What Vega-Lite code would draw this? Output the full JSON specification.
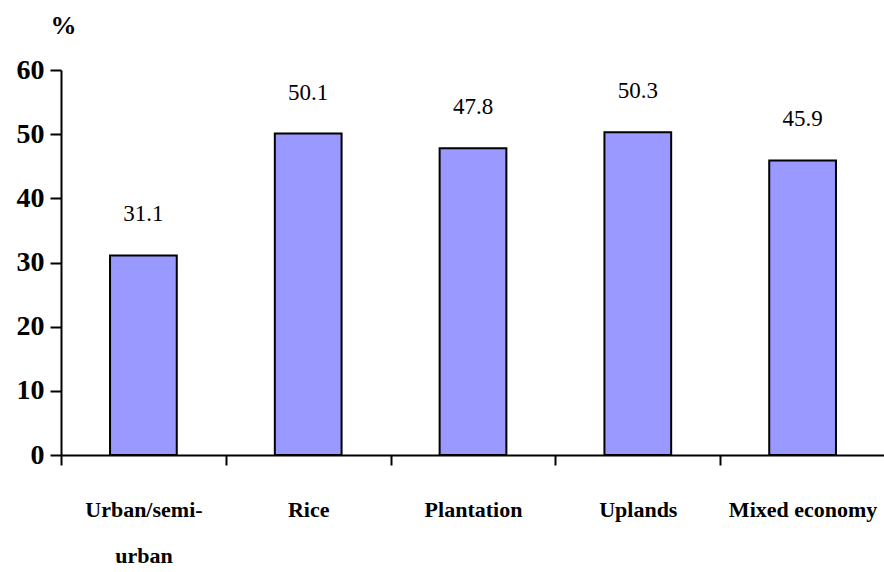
{
  "$schema": "https://vega.github.io/schema/vega-lite/v6.json",
  "autosize": "none",
  "padding": {"left": 61, "top": 70, "right": 0, "bottom": 117},
  "width": 824,
  "height": 385,
  "background": "white",
  "config": {
    "view": {"stroke": null},
    "font": "Times New Roman, Liberation Serif, serif"
  },
  "data": {
    "values": [
      {"zone": "Urban/semi-urban", "pct": 31.1},
      {"zone": "Rice", "pct": 50.1},
      {"zone": "Plantation", "pct": 47.8},
      {"zone": "Uplands", "pct": 50.3},
      {"zone": "Mixed economy", "pct": 45.9}
    ]
  },
  "encoding": {
    "x": {
      "field": "zone",
      "type": "nominal",
      "sort": null,
      "scale": {"paddingInner": 0, "paddingOuter": 0},
      "axis": {
        "title": null,
        "labelAngle": 0,
        "labelFont": "Times New Roman, Liberation Serif, serif",
        "labelFontWeight": "bold",
        "labelFontSize": 22,
        "labelColor": "black",
        "labelPadding": 34,
        "labelLineHeight": 46,
        "labelExpr": "datum.label == 'Urban/semi-urban' ? ['Urban/semi-', 'urban'] : datum.label",
        "tickBand": "extent",
        "tickSize": 10,
        "tickWidth": 2,
        "tickColor": "black",
        "domainColor": "black",
        "domainWidth": 2,
        "grid": false
      }
    },
    "y": {
      "field": "pct",
      "type": "quantitative",
      "scale": {"domain": [0, 60], "nice": false},
      "axis": {
        "values": [0, 10, 20, 30, 40, 50, 60],
        "title": "%",
        "titleAngle": 0,
        "titleAlign": "center",
        "titleBaseline": "alphabetic",
        "titleX": 2,
        "titleY": -37,
        "titleFont": "Times New Roman, Liberation Serif, serif",
        "titleFontWeight": "bold",
        "titleFontSize": 26,
        "titleColor": "black",
        "labelFont": "Times New Roman, Liberation Serif, serif",
        "labelFontWeight": "bold",
        "labelFontSize": 28,
        "labelColor": "black",
        "labelPadding": 6,
        "tickSize": 11,
        "tickWidth": 2,
        "tickColor": "black",
        "domainColor": "black",
        "domainWidth": 2,
        "grid": false
      }
    }
  },
  "layer": [
    {
      "mark": {"type": "bar", "width": {"band": 0.405}, "fill": "#9999FF", "stroke": "black", "strokeWidth": 2}
    },
    {
      "mark": {"type": "text", "baseline": "alphabetic", "dy": -34, "font": "Times New Roman, Liberation Serif, serif", "fontSize": 23, "color": "black"},
      "encoding": {
        "text": {"field": "pct", "type": "quantitative", "format": ".1f"}
      }
    }
  ]
}
